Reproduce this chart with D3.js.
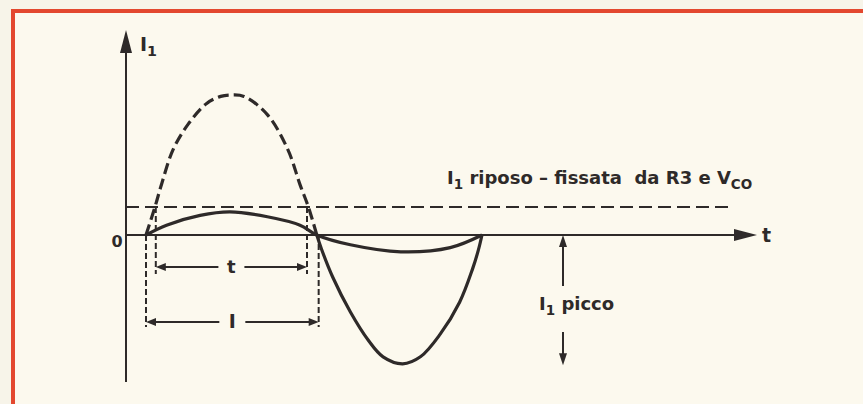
<!DOCTYPE html>
<html>
<head>
<meta charset="utf-8">
<title>I1 riposo e picco</title>
<style>
  body { margin: 0; background: #f7f4e9; }
  svg text { font-family: "DejaVu Sans", "Liberation Sans", sans-serif; font-weight: bold; fill: #2e2a29; }
</style>
</head>
<body>
<svg id="chart"></svg>
<script src="https://d3js.org/d3.v7.min.js"></script>
<script>
// fase in gradi, corrente in unita' arbitrarie (10 = picco della curva tratteggiata)
const dashedPhase = [0, 9.6, 17, 29, 45, 65, 80, 92, 105, 130, 152, 165, 174, 183];
const dashedI     = [0, 2.0, 3.7, 6.1, 7.9, 9.4, 9.9, 10, 9.9, 8.6, 6.1, 3.6, 2.0, 0];

const smallPhase = [0, 22, 58, 90, 130, 165, 183, 219, 273, 326, 360];
const smallI     = [0, 0.7, 1.4, 1.65, 1.3, 0.7, 0, -0.7, -1.2, -0.9, 0];

const negPhase = [183, 188, 200, 219, 238, 254, 275, 294, 315, 336, 350, 356, 360];
const negI     = [0, -1.0, -3.0, -5.5, -7.5, -8.7, -9.2, -8.7, -7.1, -4.8, -2.4, -1.1, 0];

const riposoI = 2.0;       // livello di riposo
const piccoI = -9.3;       // picco negativo
const spanT = [10.5, 172.5];
const spanL = [0, 185];

const width = 863, height = 404;
const ink = "#2e2a29";
const originX = 126, axisEndX = 757, axisTopY = 30, axisBottomY = 382;

const svg = d3.select("#chart").attr("width", width).attr("height", height);

// fondo e cornice rossa
svg.append("rect").attr("x", 13).attr("y", 11).attr("width", width).attr("height", height)
  .attr("fill", "#fcf9ee");
svg.append("path").attr("d", `M13,${height} V11 H${width}`)
  .attr("fill", "none").attr("stroke", "#e3482f").attr("stroke-width", 4);

const x = d3.scaleLinear().domain([0, 360]).range([146, 482]);
const y = d3.scaleLinear().domain([0, 10]).range([235, 95]);

const line = d3.line().x(d => x(d[0])).y(d => y(d[1])).curve(d3.curveCatmullRom.alpha(0.5));
const zip = (a, b) => a.map((v, i) => [v, b[i]]);

// assi
svg.append("line").attr("x1", originX).attr("x2", originX).attr("y1", axisTopY + 10).attr("y2", axisBottomY)
  .attr("stroke", ink).attr("stroke-width", 2);
svg.append("line").attr("x1", originX).attr("x2", axisEndX - 10).attr("y1", y(0)).attr("y2", y(0))
  .attr("stroke", ink).attr("stroke-width", 2);
svg.append("path").attr("d", `M${originX},${axisTopY} L${originX - 6},${axisTopY + 23} L${originX + 6},${axisTopY + 23} Z`)
  .attr("fill", ink);
svg.append("path").attr("d", `M${axisEndX},${y(0)} L${axisEndX - 23},${y(0) - 6} L${axisEndX - 23},${y(0) + 6} Z`)
  .attr("fill", ink);

// livello di riposo
svg.append("line").attr("x1", originX).attr("x2", 729).attr("y1", y(riposoI)).attr("y2", y(riposoI))
  .attr("stroke", ink).attr("stroke-width", 2).attr("stroke-dasharray", "13,6");

// curve
svg.append("path").attr("d", line(zip(dashedPhase, dashedI)))
  .attr("fill", "none").attr("stroke", ink).attr("stroke-width", 3.2).attr("stroke-dasharray", "11,5");
svg.append("path").attr("d", line(zip(smallPhase, smallI)))
  .attr("fill", "none").attr("stroke", ink).attr("stroke-width", 3.2);
svg.append("path").attr("d", line(zip(negPhase, negI)))
  .attr("fill", "none").attr("stroke", ink).attr("stroke-width", 3.2);

// quote t e I
function quota(span, top, bottom, yArrow, label, size) {
  span.forEach(p => {
    svg.append("line").attr("x1", x(p)).attr("x2", x(p)).attr("y1", top).attr("y2", bottom)
      .attr("stroke", ink).attr("stroke-width", 2).attr("stroke-dasharray", "6,3");
  });
  const a = x(span[0]), b = x(span[1]), c = (a + b) / 2;
  svg.append("line").attr("x1", a + 8).attr("x2", c - 13).attr("y1", yArrow).attr("y2", yArrow)
    .attr("stroke", ink).attr("stroke-width", 2);
  svg.append("line").attr("x1", c + 13).attr("x2", b - 8).attr("y1", yArrow).attr("y2", yArrow)
    .attr("stroke", ink).attr("stroke-width", 2);
  svg.append("path").attr("d", `M${a},${yArrow} L${a + 10},${yArrow - 4} L${a + 10},${yArrow + 4} Z`).attr("fill", ink);
  svg.append("path").attr("d", `M${b},${yArrow} L${b - 10},${yArrow - 4} L${b - 10},${yArrow + 4} Z`).attr("fill", ink);
  svg.append("text").attr("x", c).attr("y", yArrow + 6).attr("text-anchor", "middle")
    .style("font-size", size + "px").text(label);
}
quota(spanT, y(riposoI), 274, 267, "t", 18);
quota(spanL, y(0), 327, 322, "I", 19);

// freccia I1 picco
const px = 563;
svg.append("line").attr("x1", px).attr("x2", px).attr("y1", 286).attr("y2", y(0) + 10)
  .attr("stroke", ink).attr("stroke-width", 2);
svg.append("path").attr("d", `M${px},${y(0)} L${px - 4},${y(0) + 12} L${px + 4},${y(0) + 12} Z`).attr("fill", ink);
svg.append("line").attr("x1", px).attr("x2", px).attr("y1", 332).attr("y2", y(piccoI) - 10)
  .attr("stroke", ink).attr("stroke-width", 2);
svg.append("path").attr("d", `M${px},${y(piccoI)} L${px - 4},${y(piccoI) - 12} L${px + 4},${y(piccoI) - 12} Z`).attr("fill", ink);

// testi
function label(xp, yp, size, parts) {
  const t = svg.append("text").attr("x", xp).attr("y", yp).style("font-size", size + "px");
  parts.forEach(p => {
    const s = t.append("tspan").text(p[0]);
    if (p[1]) s.attr("dy", 5).style("font-size", (size * 0.75) + "px");
    else if (p[2]) s.attr("dy", -5);
  });
  return t;
}
label(140, 51, 19, [["I"], ["1", true]]);
svg.append("text").attr("x", 117).attr("y", 247).attr("text-anchor", "middle").style("font-size", "16px").text("0");
svg.append("text").attr("x", 762).attr("y", 242).style("font-size", "19px").text("t");
label(447, 184, 18, [["I"], ["1", true], [" riposo – fissata\u00a0 da R3 e V", false, true], ["CO", true]]);
label(539, 310, 18, [["I"], ["1", true], [" picco", false, true]]);
</script>
</body>
</html>
